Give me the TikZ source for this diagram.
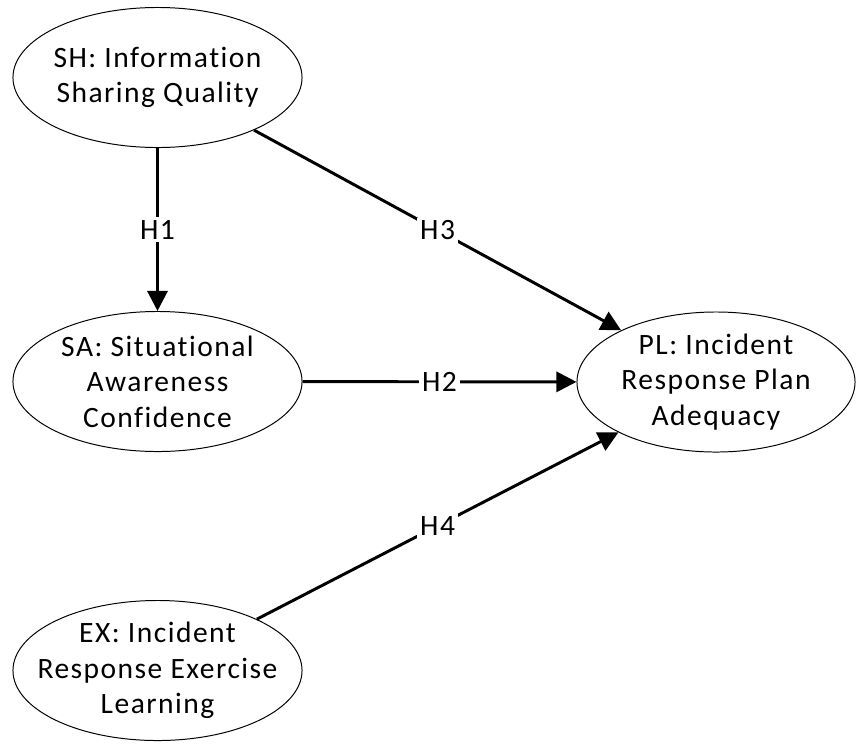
\documentclass[tikz,border=0pt]{standalone}
\usepackage{fontspec}
\setmainfont{Carlito}[LetterSpace=5, Ligatures={NoCommon}]
\usetikzlibrary{arrows.meta,shapes.geometric}

\begin{document}
\begin{tikzpicture}[
  x=0.025cm, y=-0.025cm,
  font=\fontsize{21}{25.2}\selectfont,
  latent/.style={ellipse, draw, line width=0.7pt, minimum width=7.225cm,
    minimum height=3.5cm, inner sep=0pt,
    label={[align=center]center:{#1}}},
  hyp/.style={-{Triangle[length=5mm, width=5mm]}, line width=2.1pt},
  hlab/.style={fill=white, inner sep=2pt}]
\useasboundingbox (0,0) rectangle (856,746);
\node[latent={SH: Information\\Sharing Quality}] (SH) at (157.5,77.5) {};
\node[latent={SA: Situational\\Awareness\\Confidence}] (SA) at (157.5,381.5) {};
\node[latent={PL: Incident\\Response Plan\\Adequacy}, minimum width=6.95cm] (PL) at (716,382) {};
\node[latent={EX: Incident\\Response Exercise\\Learning}] (EX) at (157.5,670.5) {};
\draw[hyp] (SH) -- node[hlab] {H1} (SA);
\draw[hyp] (SA) -- node[hlab] {H2} (PL);
\draw[hyp] (SH) -- node[hlab] {H3} (PL);
\draw[hyp] (EX) -- node[hlab] {H4} (PL);
\end{tikzpicture}
\end{document}
